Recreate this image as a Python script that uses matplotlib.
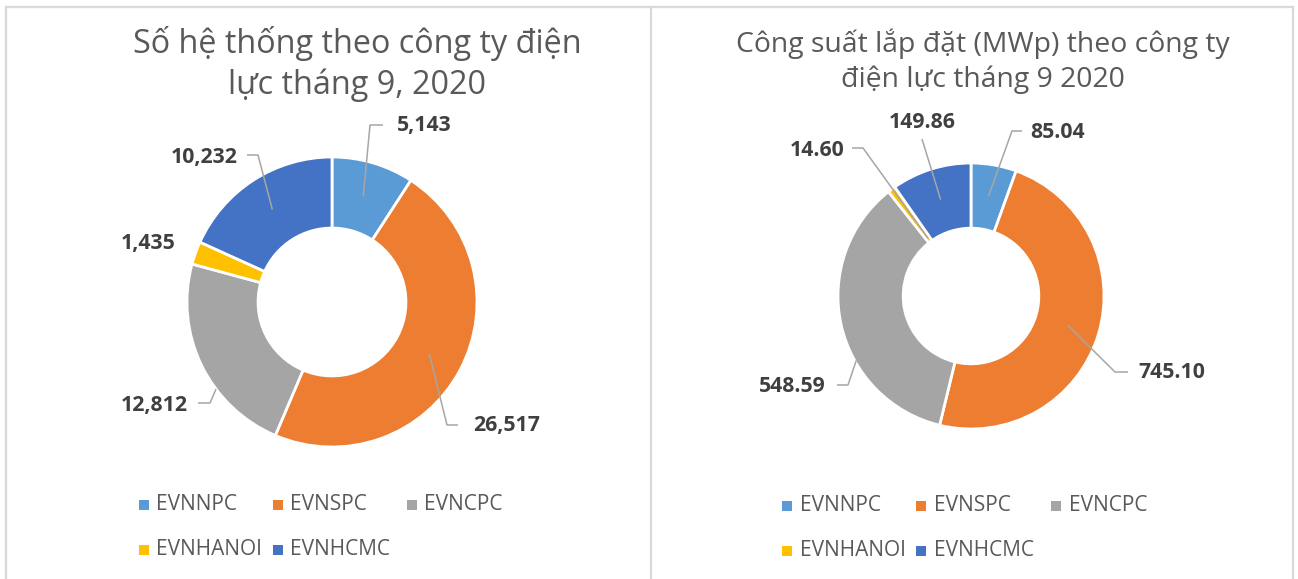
import matplotlib
matplotlib.use("Agg")
import matplotlib.pyplot as plt
from matplotlib.patches import Rectangle
import numpy as np

plt.rcParams['font.family'] = ['Open Sans', 'DejaVu Sans']

# ---------------- data ----------------
companies = ["EVNNPC", "EVNSPC", "EVNCPC", "EVNHANOI", "EVNHCMC"]
colors = ["#5B9BD5", "#ED7D31", "#A5A5A5", "#FFC000", "#4472C4"]

systems = [5143, 26517, 12812, 1435, 10232]
systems_labels = ["5,143", "26,517", "12,812", "1,435", "10,232"]

capacity = [85.04, 745.10, 548.59, 14.60, 149.86]
capacity_labels = ["85.04", "745.10", "548.59", "14.60", "149.86"]

title_left = "Số hệ thống theo công ty điện\nlực tháng 9, 2020"
title_right = "Công suất lắp đặt (MWp) theo công ty\nđiện lực tháng 9 2020"

# ---------------- figure ----------------
W, H = 1298, 579
fig = plt.figure(figsize=(W / 100, H / 100), dpi=100)
ax = fig.add_axes([0, 0, 1, 1])
ax.set_xlim(0, W)
ax.set_ylim(0, H)
ax.axis("off")

def Y(y):  # convert top-origin pixel to axes y
    return H - y

border = "#D9D9D9"
ax.plot([6, 6], [Y(7), Y(600)], color=border, lw=1.6, clip_on=False)
ax.plot([6, 1293], [Y(7), Y(7)], color=border, lw=1.6)
ax.plot([651, 651], [Y(7), Y(600)], color=border, lw=1.6, clip_on=False)
ax.plot([1293, 1293], [Y(7), Y(600)], color=border, lw=1.6, clip_on=False)

text_col = "#595959"
label_col = "#404040"
leader_col = "#A6A6A6"

def donut(values, labels, center, R, label_specs):
    cx, cy = center
    wedges, _ = ax.pie(values, colors=colors, startangle=90, counterclock=False,
                       radius=R, center=(cx, Y(cy)),
                       wedgeprops=dict(width=R * 0.49, edgecolor="white", linewidth=2.0))
    ax.set_xlim(0, W)
    ax.set_ylim(0, H)
    ax.set_aspect("equal")
    for w, lab, spec in zip(wedges, labels, label_specs):
        mid = np.deg2rad((w.theta1 + w.theta2) / 2 + spec.get("dang", 0))
        rf = spec.get("rf", 0.76)
        ax_pt = (cx + R * rf * np.cos(mid), Y(cy) + R * rf * np.sin(mid))
        tx, ty, ha = spec["text"]
        ax.text(tx, Y(ty), lab, ha=ha, va="center", fontsize=15.3,
                fontweight="bold", color=label_col)
        pts = spec.get("line")
        if pts is not None:
            xs = [ax_pt[0]] + [p[0] for p in pts]
            ys = [ax_pt[1]] + [Y(p[1]) for p in pts]
            ax.plot(xs, ys, color=leader_col, lw=1.1, solid_capstyle="butt")

left_specs = [
    dict(text=(397, 126, "left"), line=[(370, 125), (383, 125)]),
    dict(text=(473, 426, "left"), line=[(447, 425), (458, 425)]),
    dict(text=(188, 406, "right"), rf=1.0, dang=11, line=[(210, 403), (198, 403)]),
    dict(text=(175, 243, "right")),
    dict(text=(238, 158, "right"), line=[(258, 155), (247, 155)]),
]
right_specs = [
    dict(text=(1030, 133, "left"), line=[(1012, 131), (1022, 131)]),
    dict(text=(1138, 373, "left"), line=[(1115, 372), (1128, 372)]),
    dict(text=(826, 387, "right"), rf=0.99, dang=17, line=[(848, 385), (837, 385)]),
    dict(text=(844, 150, "right"), rf=0.54, line=[(863, 148), (852, 148)]),
    dict(text=(922, 122, "center"), line=[(922, 139)]),
]

donut(systems, systems_labels, (332, 302), 145, left_specs)
donut(capacity, capacity_labels, (971, 296), 133, right_specs)

# titles
ax.text(357, Y(64), title_left, ha="center", va="center", fontsize=23.3,
        color=text_col, linespacing=1.3)
ax.text(983, Y(61), title_right, ha="center", va="center", fontsize=20.4,
        color=text_col, linespacing=1.28)

# legends (row-wise layout like the original)
def legend(sq_x, rows_y, text_dx):
    for i, (name, col) in enumerate(zip(companies, colors)):
        r, c = divmod(i, 3)
        x0 = sq_x[c]
        yc = rows_y[r]
        ax.add_patch(Rectangle((x0, Y(yc) - 5), 10, 10, facecolor=col, edgecolor="none"))
        ax.text(x0 + text_dx, Y(yc), name, ha="left", va="center",
                fontsize=15, color=text_col)

legend([139, 273, 407], [504.5, 549.5], 17)
legend([782, 916, 1051], [505.5, 550.5], 18)

fig.savefig("out.png", dpi=100)
